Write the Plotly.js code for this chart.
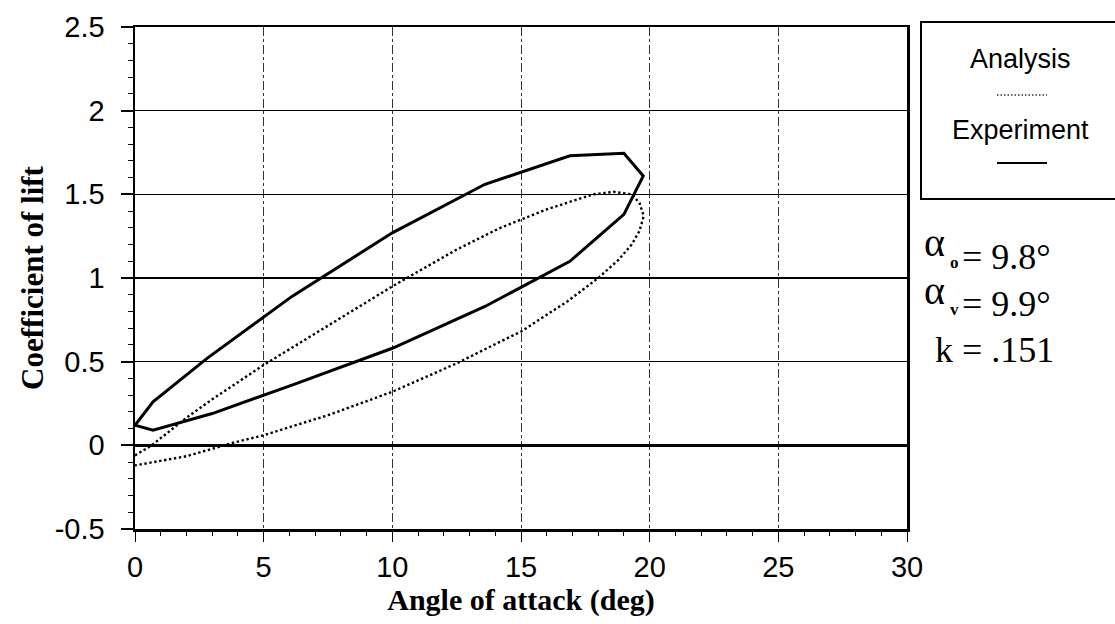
<!DOCTYPE html>
<html>
<head>
<meta charset="utf-8">
<script src="https://cdn.plot.ly/plotly-3.0.1.min.js"></script>
<style>
html,body{margin:0;padding:0;background:#fff;}
#chart{width:1115px;height:624px;}
</style>
</head>
<body>
<div id="chart"></div>
<script>
// ---- Data ----
var expAngle = [0, 0.7, 2.8, 6.1, 10.0, 13.6, 16.9, 19.0, 19.75, 19.0, 16.9, 13.6, 10.0, 6.1, 3.0, 0.7, 0];
var expCl    = [0.12, 0.26, 0.52, 0.89, 1.27, 1.56, 1.73, 1.745, 1.61, 1.38, 1.10, 0.83, 0.58, 0.36, 0.19, 0.09, 0.12];

var anaAngle = [0, 0.65, 2, 3, 5, 7, 9.26, 10, 12.5, 14.2, 16, 17.8, 18.6, 19.3, 19.6, 19.77,
                19.6, 19.3, 18.8, 18, 16.8, 15, 14.2, 12.5, 10, 7.5, 5, 3.8, 2, 0.7, 0];
var anaCl    = [-0.06, 0.0, 0.165, 0.275, 0.48, 0.67, 0.88, 0.95, 1.17, 1.30, 1.41, 1.50, 1.515, 1.50, 1.45, 1.37,
                1.28, 1.20, 1.11, 1.0, 0.86, 0.68, 0.62, 0.49, 0.32, 0.18, 0.06, 0.015, -0.065, -0.10, -0.12];

var xTicks = [0, 5, 10, 15, 20, 25, 30];
var yTicks = [-0.5, 0, 0.5, 1, 1.5, 2, 2.5];
var legendNames = ["Analysis", "Experiment"];
var paramLines = [["o", "= 9.8°"], ["v", "= 9.9°"]];
var kText = "k = .151";

// ---- Layout helpers (page pixel -> paper coords) ----
var W = 1115, H = 624, ML = 135, MR = 208, MT = 27, MB = 95;
var PW = W - ML - MR, PH = H - MT - MB;
function px(x){ return (x - ML) / PW; }
function py(y){ return (H - MB - y) / PH; }

var traces = [
  {x: anaAngle, y: anaCl, type: 'scatter', mode: 'lines', name: legendNames[0],
   line: {color: '#000', width: 2.4, dash: '2.4px,2.6px'}, showlegend: false, hoverinfo: 'skip'},
  {x: expAngle, y: expCl, type: 'scatter', mode: 'lines', name: legendNames[1],
   line: {color: '#000', width: 3}, showlegend: false, hoverinfo: 'skip'}
];

var serif = 'Liberation Serif, Times New Roman, serif';
var sans = 'Liberation Sans, Arial, sans-serif';

var annotations = [
  {xref:'paper', yref:'paper', x: px(1020), y: py(59), text: legendNames[0], showarrow:false,
   font:{family:sans, size:27, color:'#000'}, xanchor:'center', yanchor:'middle'},
  {xref:'paper', yref:'paper', x: px(1020), y: py(130), text: legendNames[1], showarrow:false,
   font:{family:sans, size:27, color:'#000'}, xanchor:'center', yanchor:'middle'}
];
var lineY = [257, 304];
for (var i = 0; i < paramLines.length; i++) {
  var cy = lineY[i];
  annotations.push({xref:'paper', yref:'paper', x: px(922), y: py(cy - 14), text: 'α', showarrow:false,
    font:{family:serif, size:40, color:'#000'}, xanchor:'left', yanchor:'middle'});
  annotations.push({xref:'paper', yref:'paper', x: px(954), y: py(cy + 5), text: paramLines[i][0], showarrow:false,
    font:{family:serif, size:17, color:'#000', weight:'bold'}, xanchor:'center', yanchor:'middle'});
  annotations.push({xref:'paper', yref:'paper', x: px(960), y: py(cy), text: paramLines[i][1], showarrow:false,
    font:{family:serif, size:36, color:'#000'}, xanchor:'left', yanchor:'middle'});
}
annotations.push({xref:'paper', yref:'paper', x: px(933), y: py(350), text: kText, showarrow:false,
  font:{family:serif, size:36, color:'#000'}, xanchor:'left', yanchor:'middle'});

var shapes = [
  {type:'rect', xref:'paper', yref:'paper', x0: px(921), x1: px(1130), y0: py(199), y1: py(22),
   line:{color:'#000', width:2}, fillcolor:'rgba(0,0,0,0)'},
  {type:'line', xref:'paper', yref:'paper', x0: px(997), x1: px(1047), y0: py(95), y1: py(95),
   line:{color:'#333', width:1.5, dash:'1.5px,2px'}},
  {type:'line', xref:'paper', yref:'paper', x0: px(997), x1: px(1047), y0: py(163), y1: py(163),
   line:{color:'#000', width:2}}
];

var layout = {
  width: W, height: H,
  margin: {l: ML, r: MR, t: MT, b: MB, pad: 0},
  paper_bgcolor: '#fff', plot_bgcolor: '#fff',
  showlegend: false,
  xaxis: {
    range: [0, 30], tickvals: xTicks, ticktext: xTicks.map(String),
    showgrid: true, gridcolor: '#333', gridwidth: 1, griddash: 'dashdot',
    zeroline: false, showline: true, linecolor: '#000', linewidth: 2.5, mirror: true,
    ticks: 'outside', ticklen: 10, tickwidth: 1, tickcolor: '#000',
    minor: {ticks: 'outside', dtick: 1, ticklen: 4, tickwidth: 1, tickcolor: '#000', showgrid: false},
    tickfont: {family: sans, size: 29, color: '#000'},
    ticklabelstandoff: 1,
    title: {text: 'Angle of attack (deg)', font: {family: serif, size: 30, color: '#000', weight: 'bold'}, standoff: 2}
  },
  yaxis: {
    range: [-0.5, 2.5], tickvals: yTicks, ticktext: yTicks.map(String),
    showgrid: true, gridcolor: '#000', gridwidth: 1.5,
    zeroline: true, zerolinecolor: '#000', zerolinewidth: 2.5,
    showline: true, linecolor: '#000', linewidth: 2.5, mirror: true,
    ticks: 'outside', ticklen: 12, tickwidth: 2, tickcolor: '#000',
    minor: {ticks: 'outside', dtick: 0.1, ticklen: 5, tickwidth: 1, tickcolor: '#000', showgrid: false},
    tickfont: {family: sans, size: 29, color: '#000'},
    ticklabelstandoff: 10,
    title: {text: 'Coefficient of lift', font: {family: serif, size: 31, color: '#000', weight: 'bold'}, standoff: 2}
  },
  annotations: annotations,
  shapes: shapes
};

Plotly.newPlot('chart', traces, layout, {staticPlot: true, displayModeBar: false});
</script>
</body>
</html>
